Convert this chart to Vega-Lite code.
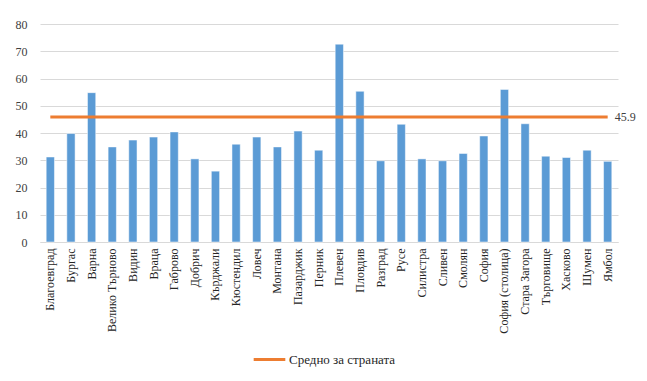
{
  "$schema": "https://vega.github.io/schema/vega-lite/v6.json",
  "autosize": "none",
  "padding": {"left": 40, "top": 24, "right": 29, "bottom": 139},
  "width": 578,
  "height": 218,
  "background": "white",
  "config": {
    "font": "Liberation Serif, serif",
    "view": {"stroke": null},
    "axisY": {
      "labelFont": "Liberation Serif, serif",
      "labelFontSize": 12,
      "labelColor": "#404040",
      "labelPadding": 13,
      "labelOverlap": false,
      "ticks": false,
      "domain": false,
      "gridColor": "#d9d9d9",
      "gridWidth": 1
    }
  },
  "data": {
    "values": [
      {"region": "Благоевград", "value": 31.2, "avg": 45.9},
      {"region": "Бургас", "value": 39.8, "avg": 45.9},
      {"region": "Варна", "value": 54.8, "avg": 45.9},
      {"region": "Велико Търново", "value": 34.9, "avg": 45.9},
      {"region": "Видин", "value": 37.4, "avg": 45.9},
      {"region": "Враца", "value": 38.5, "avg": 45.9},
      {"region": "Габрово", "value": 40.4, "avg": 45.9},
      {"region": "Добрич", "value": 30.5, "avg": 45.9},
      {"region": "Кърджали", "value": 26.0, "avg": 45.9},
      {"region": "Кюстендил", "value": 35.9, "avg": 45.9},
      {"region": "Ловеч", "value": 38.5, "avg": 45.9},
      {"region": "Монтана", "value": 34.9, "avg": 45.9},
      {"region": "Пазарджик", "value": 40.7, "avg": 45.9},
      {"region": "Перник", "value": 33.7, "avg": 45.9},
      {"region": "Плевен", "value": 72.6, "avg": 45.9},
      {"region": "Пловдив", "value": 55.3, "avg": 45.9},
      {"region": "Разград", "value": 29.8, "avg": 45.9},
      {"region": "Русе", "value": 43.2, "avg": 45.9},
      {"region": "Силистра", "value": 30.5, "avg": 45.9},
      {"region": "Сливен", "value": 29.8, "avg": 45.9},
      {"region": "Смолян", "value": 32.5, "avg": 45.9},
      {"region": "София", "value": 38.9, "avg": 45.9},
      {"region": "София (столица)", "value": 56.0, "avg": 45.9},
      {"region": "Стара Загора", "value": 43.4, "avg": 45.9},
      {"region": "Търговище", "value": 31.5, "avg": 45.9},
      {"region": "Хасково", "value": 31.0, "avg": 45.9},
      {"region": "Шумен", "value": 33.7, "avg": 45.9},
      {"region": "Ямбол", "value": 29.6, "avg": 45.9}
    ]
  },
  "encoding": {
    "x": {
      "field": "region",
      "type": "nominal",
      "sort": null,
      "title": null,
      "scale": {"paddingInner": 0.6, "paddingOuter": 0.3},
      "axis": {
        "labelAngle": -90,
        "labelFont": "Liberation Serif, serif",
        "labelFontSize": 12,
        "labelColor": "#262626",
        "labelPadding": 6,
        "ticks": false,
        "domainColor": "#d9d9d9",
        "domainWidth": 1,
        "grid": false
      }
    }
  },
  "layer": [
    {
      "mark": {"type": "bar", "color": "#5b9bd5", "stroke": "#ffffff", "strokeWidth": 0.5},
      "encoding": {
        "y": {
          "field": "value",
          "type": "quantitative",
          "title": null,
          "scale": {"domain": [0, 80], "nice": false},
          "axis": {"values": [0, 10, 20, 30, 40, 50, 60, 70, 80]}
        }
      }
    },
    {
      "mark": {"type": "line", "strokeWidth": 3},
      "encoding": {
        "y": {"field": "avg", "type": "quantitative", "title": null, "axis": {"values": [0, 10, 20, 30, 40, 50, 60, 70, 80]}},
        "color": {
          "datum": "Средно за страната",
          "type": "nominal",
          "scale": {"range": ["#ed7d31"]},
          "legend": {
            "title": null,
            "orient": "none",
            "legendX": 212,
            "legendY": 318,
            "symbolType": "stroke",
            "symbolSize": 1000,
            "symbolStrokeWidth": 3,
            "labelFont": "Liberation Serif, serif",
            "labelFontSize": 13,
            "labelColor": "#262626",
            "labelOffset": 2
          }
        }
      }
    },
    {
      "transform": [{"filter": "datum.region === 'Ямбол'"}],
      "mark": {"type": "text", "align": "left", "baseline": "middle", "dx": 7, "fontSize": 12, "font": "Liberation Serif, serif", "color": "#404040"},
      "encoding": {
        "y": {"field": "avg", "type": "quantitative", "title": null, "axis": {"values": [0, 10, 20, 30, 40, 50, 60, 70, 80]}},
        "text": {"field": "avg", "type": "quantitative", "format": ".1f"}
      }
    }
  ]
}
